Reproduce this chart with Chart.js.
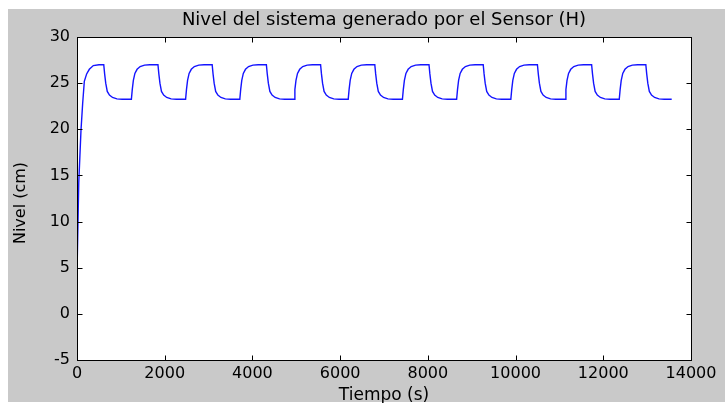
<!DOCTYPE html>
<html>
<head>
<meta charset="utf-8">
<title>Nivel del sistema generado por el Sensor (H)</title>
<script src="https://cdn.jsdelivr.net/npm/chart.js@4"></script>
<style>
  body { margin: 0; background: #ffffff; }
  #cvs { display: block; }
</style>
</head>
<body>
<canvas id="cvs" width="725" height="403"></canvas>
<script>
//-------------------------------------------------------------------
// data (tiempo in s, nivel in cm)
//-------------------------------------------------------------------
const chartTitle = 'Nivel del sistema generado por el Sensor (H)';
const xLabel = 'Tiempo (s)';
const yLabel = 'Nivel (cm)';

const xTicks = [0, 2000, 4000, 6000, 8000, 10000, 12000, 14000];
const yTicks = [-5, 0, 5, 10, 15, 20, 25, 30];

const tiempo = [
  0, 5, 40, 91, 129, 167, 220, 281, 372, 500,
  610, 630, 655, 690, 740, 810, 910, 1030,
  1240, 1260, 1285, 1320, 1370, 1440, 1540, 1660,
  1846, 1866, 1891, 1926, 1976, 2046, 2146, 2266,
  2476, 2496, 2521, 2556, 2606, 2676, 2776, 2896,
  3082, 3102, 3127, 3162, 3212, 3282, 3382, 3502,
  3712, 3732, 3757, 3792, 3842, 3912, 4012, 4132,
  4318, 4338, 4363, 4398, 4448, 4518, 4618, 4738,
  4948, 4968, 4993, 5028, 5078, 5148, 5248, 5368,
  5554, 5574, 5599, 5634, 5684, 5754, 5854, 5974,
  6184, 6204, 6229, 6264, 6314, 6384, 6484, 6604,
  6790, 6810, 6835, 6870, 6920, 6990, 7090, 7210,
  7420, 7440, 7465, 7500, 7550, 7620, 7720, 7840,
  8026, 8046, 8071, 8106, 8156, 8226, 8326, 8446,
  8656, 8676, 8701, 8736, 8786, 8856, 8956, 9076,
  9262, 9282, 9307, 9342, 9392, 9462, 9562, 9682,
  9892, 9912, 9937, 9972, 10022, 10092, 10192, 10312,
  10498, 10518, 10543, 10578, 10628, 10698, 10798, 10918,
  11128, 11148, 11173, 11208, 11258, 11328, 11428, 11548,
  11734, 11754, 11779, 11814, 11864, 11934, 12034, 12154,
  12364, 12384, 12409, 12444, 12494, 12564, 12664, 12784,
  12970, 12990, 13015, 13050, 13100, 13170, 13270, 13390,
  13560
];

const nivel = [
  0, 5.5, 14.2, 19.9, 22.8, 25.2, 26.0, 26.5, 26.9, 27.0,
  27.0, 26.0, 25.0, 24.1, 23.7, 23.45, 23.3, 23.25,
  23.25, 24.3, 25.3, 26.05, 26.5, 26.8, 26.95, 27.0,
  27.0, 26.0, 25.0, 24.1, 23.7, 23.45, 23.3, 23.25,
  23.25, 24.3, 25.3, 26.05, 26.5, 26.8, 26.95, 27.0,
  27.0, 26.0, 25.0, 24.1, 23.7, 23.45, 23.3, 23.25,
  23.25, 24.3, 25.3, 26.05, 26.5, 26.8, 26.95, 27.0,
  27.0, 26.0, 25.0, 24.1, 23.7, 23.45, 23.3, 23.25,
  23.25, 24.3, 25.3, 26.05, 26.5, 26.8, 26.95, 27.0,
  27.0, 26.0, 25.0, 24.1, 23.7, 23.45, 23.3, 23.25,
  23.25, 24.3, 25.3, 26.05, 26.5, 26.8, 26.95, 27.0,
  27.0, 26.0, 25.0, 24.1, 23.7, 23.45, 23.3, 23.25,
  23.25, 24.3, 25.3, 26.05, 26.5, 26.8, 26.95, 27.0,
  27.0, 26.0, 25.0, 24.1, 23.7, 23.45, 23.3, 23.25,
  23.25, 24.3, 25.3, 26.05, 26.5, 26.8, 26.95, 27.0,
  27.0, 26.0, 25.0, 24.1, 23.7, 23.45, 23.3, 23.25,
  23.25, 24.3, 25.3, 26.05, 26.5, 26.8, 26.95, 27.0,
  27.0, 26.0, 25.0, 24.1, 23.7, 23.45, 23.3, 23.25,
  23.25, 24.3, 25.3, 26.05, 26.5, 26.8, 26.95, 27.0,
  27.0, 26.0, 25.0, 24.1, 23.7, 23.45, 23.3, 23.25,
  23.25, 24.3, 25.3, 26.05, 26.5, 26.8, 26.95, 27.0,
  27.0, 26.0, 25.0, 24.1, 23.7, 23.45, 23.3, 23.25,
  23.25
];

//-------------------------------------------------------------------
// matlab-ish frame: gray figure, white axes, box, inward ticks
//-------------------------------------------------------------------
const FONT = "'DejaVu Sans', sans-serif";
const TICK_LEN = 5;

const matlabFrame = {
  id: 'matlabFrame',

  beforeDraw(chart) {
    const ctx = chart.ctx;
    const a = chart.chartArea;
    ctx.save();
    ctx.fillStyle = '#ffffff';
    ctx.fillRect(0, 0, chart.width, chart.height);
    ctx.fillStyle = '#c9c9c9';
    ctx.fillRect(8, 9, chart.width - 8, chart.height - 10);
    ctx.fillStyle = '#ffffff';
    ctx.fillRect(a.left, a.top, a.right - a.left, a.bottom - a.top);
    ctx.restore();
  },

  afterDatasetsDraw(chart) {
    const ctx = chart.ctx;
    const a = chart.chartArea;
    const xs = chart.scales.x;
    const ys = chart.scales.y;
    const l = a.left + 0.5, r = a.right + 0.5, t = a.top + 0.5, b = a.bottom + 0.5;

    ctx.save();
    ctx.strokeStyle = '#000000';
    ctx.lineWidth = 1;
    ctx.beginPath();
    xs.ticks.forEach((tk) => {
      let px = Math.round(xs.getPixelForValue(tk.value)) + 0.5;
      ctx.moveTo(px, b); ctx.lineTo(px, b - TICK_LEN);
      ctx.moveTo(px, t); ctx.lineTo(px, t + TICK_LEN);
    });
    ys.ticks.forEach((tk) => {
      let py = Math.round(ys.getPixelForValue(tk.value)) + 0.5;
      ctx.moveTo(l, py); ctx.lineTo(l + TICK_LEN, py);
      ctx.moveTo(r, py); ctx.lineTo(r - TICK_LEN, py);
    });
    ctx.stroke();
    ctx.strokeRect(l, t, r - l, b - t);

    // title centred over the axes, like matlab does
    ctx.fillStyle = '#000000';
    ctx.font = '18px ' + FONT;
    ctx.textAlign = 'center';
    ctx.textBaseline = 'middle';
    ctx.fillText(chartTitle, (a.left + a.right) / 2, 20);

    // y label, rotated
    ctx.font = '16px ' + FONT;
    ctx.translate(21, 203);
    ctx.rotate(-Math.PI / 2);
    ctx.fillText(yLabel, 0, 0);
    ctx.restore();
  }
};

//-------------------------------------------------------------------
// chart
//-------------------------------------------------------------------
function makeChart() {
  const points = tiempo.map((t, i) => ({ x: t, y: nivel[i] }));

  const ctx = document.getElementById('cvs').getContext('2d');

  return new Chart(ctx, {
    type: 'line',
    data: {
      datasets: [{
        data: points,
        borderColor: 'rgb(20, 20, 255)',
        borderWidth: 1.4,
        pointRadius: 0,
        tension: 0,
        fill: false
      }]
    },
    options: {
      responsive: false,
      animation: false,
      devicePixelRatio: 1,
      layout: { padding: { left: 0, right: 34, top: 37, bottom: 0 } },
      scales: {
        x: {
          type: 'linear',
          min: xTicks[0],
          max: xTicks[xTicks.length - 1],
          afterBuildTicks: (scale) => { scale.ticks = xTicks.map((v) => ({ value: v })); },
          afterFit: (scale) => { scale.height = 43; },
          grid: { display: false, drawTicks: false },
          border: { display: false },
          ticks: {
            autoSkip: false,
            maxRotation: 0,
            padding: 4,
            color: '#000000',
            font: { family: FONT, size: 16 },
            callback: (val) => String(val)
          },
          title: {
            display: true,
            text: xLabel,
            color: '#000000',
            font: { family: FONT, size: 17, lineHeight: 0.9 },
            padding: { top: 0, bottom: 0 }
          }
        },
        y: {
          type: 'linear',
          min: yTicks[0],
          max: yTicks[yTicks.length - 1],
          afterBuildTicks: (scale) => { scale.ticks = yTicks.map((v) => ({ value: v })); },
          afterFit: (scale) => { scale.width = 77; },
          grid: { display: false, drawTicks: false },
          border: { display: false },
          ticks: {
            autoSkip: false,
            padding: 7,
            color: '#000000',
            font: { family: FONT, size: 16 },
            callback: (val) => String(val)
          },
          title: { display: false }
        }
      },
      plugins: {
        legend: { display: false },
        tooltip: { enabled: false },
        title: { display: false }
      }
    },
    plugins: [matlabFrame]
  });
}

makeChart();
</script>
</body>
</html>
